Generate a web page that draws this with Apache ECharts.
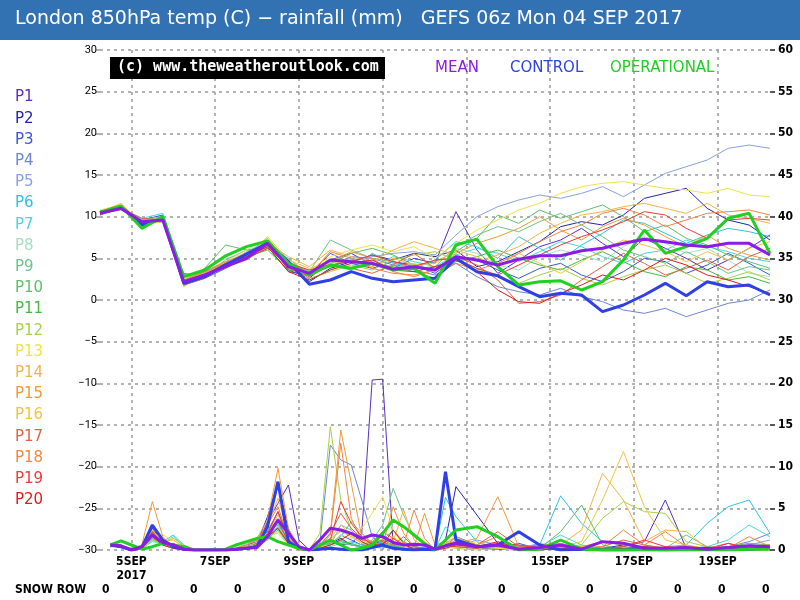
<!DOCTYPE html>
<html>
<head>
<meta charset="utf-8">
<script src="https://cdn.jsdelivr.net/npm/echarts@6/dist/echarts.min.js"></script>
<style>
html, body { margin: 0; padding: 0; background: #fff; }
#main { width: 800px; height: 600px; }
</style>
</head>
<body>
<div id="main"></div>
<script>
// lead times in hours after 04 SEP 06z
var tempHours = [0,12,24,36,48,60,72,84,96,108,120,132,144,156,168,180,192,204,216,228,240,252,264,276,288,300,312,324,336,348,360,372,384];
var rainHours = [6,12,18,24,30,36,42,48,54,60,66,72,78,84,90,96,102,108,114,120,126,132,138,144,150,156,162,168,174,180,186,192,198,204,
                 216,228,240,252,264,276,288,300,312,324,336,348,360,372,384];

// day ticks (00z) and their labels
var dayTicks = [18, 66, 114, 162, 210, 258, 306, 354];
var dayLabels = ['5SEP\n2017', '7SEP', '9SEP', '11SEP', '13SEP', '15SEP', '17SEP', '19SEP'];
var snowRow = [0,0,0,0,0,0,0,0,0,0,0,0,0,0,0,0];

// 850hPa temp (C)
var meanTemp = [10.4,11.0,9.4,9.6,2.2,3.0,4.0,5.0,6.8,4.0, 3.2,4.8,4.6,4.4,3.7,4.0,3.6,5.2,4.8,4.2, 4.9,5.3,5.3,5.9,6.2,6.8,7.3,7.0,6.6,6.4, 6.8,6.8,5.4];
var controlTemp = [10.5,11.2,9.0,9.8,2.0,2.8,4.2,5.5,6.8,4.6, 1.9,2.4,3.4,2.6,2.2,2.4,2.6,5.0,3.4,2.9, 1.6,0.4,0.8,0.6,-1.4,-0.6,0.6,2.0,0.5,2.2, 1.6,1.8,0.6];
var operationalTemp = [10.5,11.3,8.6,10.0,2.8,3.6,5.3,6.4,7.1,4.4, 3.0,4.2,3.8,4.4,3.6,3.8,2.0,6.6,7.3,4.0, 1.8,2.2,2.3,1.2,2.2,4.8,8.4,5.6,6.4,7.4, 9.8,10.4,5.6];

var p1Temp = [10.6,11.1,9.4,9.8,2.0,3.2,4.4,5.6,7.0,3.6, 2.6,4.8,5.6,4.2,3.8,5.0,4.4,10.6,6.0,3.2, 4.8,6.4,7.2,8.6,6.8,5.2,7.4,6.2,5.0,3.6, 4.8,6.2,7.8];
var p2Temp = [10.5,11.2,9.0,9.5,2.4,2.9,4.2,5.4,6.8,4.2, 2.2,3.8,4.6,5.4,4.8,5.6,5.2,6.0,4.0,4.6, 5.8,7.0,8.8,9.4,9.0,10.2,12.2,12.8,13.4,11.0, 9.6,9.0,7.2];
var p3Temp = [10.4,11.0,9.6,10.2,1.8,2.6,3.8,5.2,6.4,3.4, 3.0,5.6,4.4,3.8,4.6,4.2,3.2,5.0,4.8,3.6, 2.6,3.8,4.4,3.0,2.2,3.4,5.0,4.6,3.2,4.2, 5.6,4.4,3.0];
var p4Temp = [10.2,11.3,9.2,9.4,2.6,3.4,4.6,5.0,6.2,4.6, 3.4,4.0,5.2,5.0,4.2,3.6,3.0,4.4,2.8,1.6, 1.0,0.6,1.4,0.4,-0.2,-1.2,-1.6,-1.0,-2.0,-1.2, -0.4,0.0,1.2];
var p5Temp = [10.6,11.0,9.0,9.7,2.2,3.1,4.2,5.8,6.9,3.8, 2.8,4.6,4.8,5.2,5.6,5.8,5.4,7.8,10.0,11.2, 12.0,12.6,12.2,12.8,13.6,12.4,13.8,15.2,16.0,16.8, 18.2,18.6,18.2];
var p6Temp = [10.4,11.2,9.6,10.0,2.4,2.8,4.0,5.6,7.4,4.2, 3.2,4.2,3.6,5.6,4.4,3.8,4.8,7.0,6.4,5.0, 7.6,6.2,4.8,6.6,8.0,9.6,9.2,8.0,6.8,7.8, 8.6,8.2,7.6];
var p7Temp = [10.3,11.0,9.8,10.4,3.0,3.4,4.4,5.2,6.6,4.0, 3.6,4.4,5.0,4.0,5.2,4.6,4.0,5.4,6.2,5.6, 4.6,5.8,7.0,6.4,5.2,4.4,5.6,6.0,7.2,6.4, 5.8,5.0,4.6];
var p8Temp = [10.5,11.1,8.8,9.6,2.6,3.6,5.0,5.6,7.2,4.6, 2.4,3.6,4.4,4.8,3.8,4.4,3.4,6.2,5.6,4.2, 3.6,5.2,6.0,5.4,4.6,6.4,7.6,6.8,5.6,6.2, 4.8,3.2,2.8];
var p9Temp = [10.7,11.2,9.0,9.6,2.0,3.0,4.8,6.0,6.2,4.4, 3.4,7.2,6.0,5.0,4.6,3.8,4.0,6.4,7.8,8.8, 8.2,9.4,10.4,9.0,7.6,6.0,5.2,4.4,5.8,4.6, 3.2,4.0,3.6];
var p10Temp = [10.4,10.8,9.4,9.8,2.2,3.8,6.6,6.0,6.4,5.0, 3.0,4.4,5.6,6.2,5.4,4.2,4.6,5.8,7.4,10.2, 9.2,10.8,9.8,10.6,11.4,10.0,8.2,9.0,7.4,6.6, 5.4,4.6,3.8];
var p11Temp = [10.6,11.0,9.2,9.4,3.2,2.8,4.0,5.2,6.0,3.6, 3.2,4.0,4.8,4.4,4.0,3.4,2.6,4.6,5.2,6.0, 5.0,4.2,3.6,4.8,5.8,4.6,3.4,2.8,4.0,3.6, 2.4,2.8,2.0];
var p12Temp = [10.3,11.2,9.6,10.0,2.4,3.2,4.2,5.4,6.8,4.0, 2.6,3.4,4.2,3.6,4.8,5.4,5.8,4.8,3.8,2.8, 2.0,3.0,3.8,2.6,1.8,2.8,3.6,4.2,3.2,2.0, 2.6,3.4,2.4];
var p13Temp = [10.8,11.4,9.0,9.4,2.6,3.6,4.6,6.0,7.4,4.4, 3.6,5.2,6.0,6.6,5.8,6.4,5.0,6.8,8.4,9.6, 10.8,11.6,12.8,13.6,14.0,14.2,13.8,13.4,13.2,12.8, 13.4,12.6,12.4];
var p14Temp = [10.5,11.2,9.4,9.8,1.6,3.2,4.4,5.4,6.8,5.2, 4.0,6.0,5.2,4.6,6.0,7.0,6.2,5.4,4.6,5.4, 6.4,8.0,9.2,10.2,10.6,11.2,11.6,11.0,10.4,11.6, 10.2,9.8,9.2];
var p15Temp = [10.4,11.0,9.0,9.6,2.0,3.4,4.0,4.8,6.4,4.0, 3.2,4.6,5.8,5.0,3.4,2.8,3.6,5.6,6.8,7.6, 8.6,10.0,8.4,7.2,8.8,9.8,9.0,7.6,6.4,7.8, 6.2,5.4,4.8];
var p16Temp = [10.6,11.6,9.2,10.0,2.8,3.0,4.2,5.0,7.6,4.8, 3.8,4.4,4.6,4.0,5.0,4.2,4.4,6.0,5.2,4.0, 5.6,4.4,3.2,4.6,6.0,7.2,6.6,5.8,4.6,5.8, 4.8,6.2,7.0];
var p17Temp = [10.2,11.0,9.8,9.6,1.8,2.6,4.2,5.4,6.6,3.8, 2.8,4.2,3.8,3.2,4.2,5.6,3.8,5.2,4.2,2.4, -0.4,-0.2,0.6,2.4,4.0,5.6,4.4,3.0,3.8,4.8, 3.6,5.2,6.2];
var p18Temp = [10.4,11.1,9.4,9.4,2.4,3.4,4.6,5.6,7.0,4.2, 3.0,5.8,5.0,3.8,3.2,3.0,3.6,4.4,3.6,4.4, 5.6,7.0,8.2,9.0,10.4,11.0,10.2,8.8,9.6,10.4, 10.6,10.8,10.2];
var p19Temp = [10.6,11.3,9.0,9.8,2.2,2.8,4.0,5.0,6.2,4.4, 3.6,4.2,4.6,5.4,4.6,4.0,4.8,5.0,3.8,3.0, 4.2,5.4,6.6,7.6,8.4,9.4,10.6,10.2,8.6,7.4, 9.6,9.8,9.6];
var p20Temp = [10.3,10.9,9.2,9.6,2.0,3.0,4.4,5.2,6.4,3.4, 2.4,3.6,4.4,4.8,3.6,3.4,4.0,4.8,3.4,1.2, -0.2,-0.4,0.8,1.8,3.0,2.4,3.6,5.0,4.2,3.0, 2.4,1.6,0.8];

// rainfall (mm)
var meanRain = [0.6,0.5,0.0,0.4,1.8,0.9,0.6,0.1,0.0,0.0, 0.0,0.0,0.1,0.2,0.3,1.6,3.6,2.0,0.4,0.0, 1.2,2.6,2.4,2.0,1.4,1.8,1.6,0.9,0.6,0.7, 0.6,0.1,0.5,0.8,0.4,0.6,0.1,0.3,0.6,0.1, 1.0,0.8,0.2,0.2,0.3,0.1,0.3,0.5,0.4];
var controlRain = [0.6,0.4,0.0,0.3,3.0,1.2,0.4,0.1,0.0,0.0, 0.0,0.0,0.1,0.2,0.4,2.8,8.2,1.0,0.2,0.0, 0.1,0.2,0.1,0.0,0.0,0.3,0.6,0.2,0.1,0.0, 0.1,0.0,9.4,1.2,0.4,0.6,2.2,0.6,0.0,0.1, 0.0,0.0,0.1,0.0,0.1,0.2,0.1,0.1,0.2];
var operationalRain = [0.6,1.1,0.6,0.1,0.4,0.8,0.6,0.4,0.0,0.0, 0.0,0.1,0.6,1.0,1.4,1.6,1.0,0.6,0.2,0.0, 0.6,1.2,0.6,0.0,0.2,0.6,2.0,3.6,2.8,1.8, 0.8,0.0,1.2,2.4,2.8,1.6,0.0,0.1,1.2,0.1, 0.0,0.0,0.0,0.0,0.0,0.0,0.0,0.1,0.1];

var p1Rain = [0.5,0.4,0,0.2,2.2,0.8,0.4,0,0,0, 0,0,0,0.2,0.6,3.4,5.6,7.8,1.2,0, 0.4,1.0,0.6,0.8,2.0,20.4,20.5,0.8,0.2,0.4, 0.2,0,0.6,0.4,0.2,0.1,0,0.6,0.2,0, 0,0.4,1.0,6.0,0.2,0,0.1,0.2,0.4];
var p2Rain = [0.6,0.5,0,0.3,2.6,1.0,0.3,0,0,0, 0,0,0.1,0.4,0.8,4.0,8.0,2.4,0.2,0, 0.2,0.8,1.4,0.6,0.4,0.8,1.0,0.4,0.2,0, 0.1,0,1.2,7.6,4.2,0.8,0.2,0,0.2,0, 0.2,0.6,0.4,0.1,0,0,0.2,0.4,0.6];
var p3Rain = [0.4,0.6,0,0.2,2.0,0.6,0.8,0.2,0,0, 0,0,0.2,0.6,1.0,2.2,4.6,1.4,0.3,0, 0.4,0.6,1.8,1.2,0.6,1.0,0.4,0.2,0.1,0, 0,0,0.4,1.6,0.6,0.2,0.8,0.1,0,0, 0,0.1,0,0.2,0,0.1,0,0,0.2];
var p4Rain = [0.6,0.3,0,0.4,1.4,0.6,0.2,0,0,0, 0,0,0,0.2,0.4,1.2,2.8,0.8,0.1,0, 0.8,12.6,10.8,10.2,6.0,1.6,0.6,0.3,0.2,0.1, 0,0,0.4,0.6,0.2,0.4,0.1,0,0.2,0, 0,0,0.3,0.1,0,0.2,0.4,1.0,2.0];
var p5Rain = [0.4,0.4,0,0.2,1.6,0.8,0.4,0,0,0, 0,0,0,0.1,0.6,2.0,3.8,1.0,0.2,0, 0.2,0.6,3.0,2.4,1.0,0.4,0.2,0.6,0.3,0, 0,0,0.2,0.4,1.2,0.6,0.2,0.8,0.2,0, 0,0.2,0.1,0,0.2,0,0.1,0.6,1.2];
var p6Rain = [0.5,0.3,0,0.3,1.2,1.0,1.8,0.6,0,0, 0,0,0,0.2,0.6,2.4,3.0,1.2,0.2,0, 0.3,0.8,1.2,0.6,0.4,0.6,1.0,0.4,0.2,0.1, 0.4,0,6.3,4.0,1.0,0.2,0.4,0.6,6.5,3.2, 1.0,0.6,0.2,0,0.6,3.2,5.2,6.0,2.0];
var p7Rain = [0.4,0.5,0,0.2,1.0,0.8,1.6,0.4,0,0, 0,0,0,0.1,0.4,1.6,2.6,0.8,0.1,0, 0.2,0.4,0.8,1.0,0.6,0.2,0.4,0.2,0,0, 0.2,0,2.8,1.4,0.6,0.2,0,0.4,1.8,0.6, 0.2,0.4,0,0,0.2,0.4,1.2,3.0,1.6];
var p8Rain = [0.6,0.4,0,0.2,1.2,0.6,0.2,0,0,0, 0,0,0,0.2,0.4,1.8,2.0,0.6,0,0, 0.6,1.4,2.2,1.6,0.8,0.4,0.6,0.2,0.4,0, 0,0,0.6,0.4,0.2,0.6,0.2,0,0.4,0.2, 0,0.2,0.6,0.2,0,0.4,0.2,0,0.6];
var p9Rain = [0.4,0.6,0,0.3,1.6,0.8,0.4,0,0,0, 0,0,0.2,0.8,1.2,2.6,3.4,1.0,0.2,0, 0.4,1.0,0.8,0.6,0.4,1.2,3.0,7.4,4.2,1.6, 0.6,0,0.8,0.6,0.2,0.4,0,0.2,0.6,0.2, 0,0,0.4,0.2,1.8,0.4,0,0.2,0.4];
var p10Rain = [0.5,0.4,0,0.2,1.4,0.6,0.2,0,0,0, 0,0,0,0.4,0.6,1.4,2.4,0.6,0,0, 0.2,0.8,1.6,3.4,2.0,0.8,1.2,2.4,1.0,0.4, 0.2,0,0.6,0.8,0.4,0.2,0.6,0.2,2.2,5.4, 0.6,0,0.2,0.1,0,0.2,0.4,0.8,0.6];
var p11Rain = [0.6,0.5,0,0.3,1.8,0.8,0.4,0.1,0,0, 0,0,0.1,0.4,0.8,2.0,3.2,1.2,0.2,0, 0.4,0.6,1.0,0.8,0.4,0.6,0.8,0.6,0.2,0, 0,0,0.4,0.8,0.6,0.2,0,0.2,0.4,0.1, 0,0,0.2,0.1,0,0.2,0,0.1,0.2];
var p12Rain = [0.4,0.5,0,0.2,1.2,0.8,1.4,0.6,0,0, 0,0,0,0.2,0.6,1.8,2.8,1.0,0.2,0, 2.0,14.8,6.0,2.4,1.2,0.6,0.4,0.8,0.2,0, 0.2,0,0.4,0.2,0,0.2,0,0.2,0.4,0.6, 3.8,5.8,4.6,4.4,1.0,0.4,0.2,0,0.2];
var p13Rain = [0.6,0.4,0,0.2,1.6,1.8,1.2,0.2,0,0, 0,0,0,0.2,0.4,1.2,2.2,0.6,0,0, 0.4,0.6,1.8,1.4,2.6,4.4,6.4,2.4,0.4,0, 0,0,0.2,0.4,1.0,0.2,0,0.4,0.2,0, 0,0.2,0.6,0.2,0,0,0.2,0,0];
var p14Rain = [0.5,0.6,0,0.4,2.4,1.0,0.6,0,0,0, 0,0,0,0.2,1.0,2.8,6.2,2.0,0.4,0, 0.6,1.2,2.4,1.6,0.8,0.6,1.4,1.0,4.8,1.2, 0.4,0,0.8,1.6,0.4,0.6,0.2,0,0.6,2.4, 9.2,6.0,1.0,2.4,2.2,0.2,0,0.4,0.2];
var p15Rain = [0.8,0.6,0.2,0.6,5.8,1.6,0.4,0,0,0, 0,0,0.2,0.6,1.4,3.6,9.8,2.6,0.4,0, 0.6,2.0,14.4,8.0,1.6,1.0,0.6,5.2,2.0,0.4, 4.4,0.6,1.0,0.8,1.4,6.4,0.4,0.2,0.6,0.4, 1.0,0.6,0.2,0.4,0.6,0,0.2,0.4,0.6];
var p16Rain = [0.6,0.4,0,0.3,1.8,1.0,1.2,0.4,0,0, 0,0,0,0.4,0.6,2.0,4.2,1.6,0.2,0, 0.2,1.4,3.0,1.8,0.8,0.6,0.8,1.6,0.6,0.2, 0.2,0,0.4,0.6,0.2,0.4,0,0.2,0.4,1.0, 6.0,11.8,5.2,1.2,0.6,0.2,0,0.2,0.4];
var p17Rain = [0.6,0.5,0,0.3,2.0,0.8,0.4,0,0,0, 0,0,0,0.2,0.6,1.8,3.6,0.8,0.2,0, 0.6,2.0,4.4,2.6,1.4,0.8,1.2,0.6,1.6,0.4, 0.2,0,0.6,1.0,0.6,2.2,0.4,0.2,0.6,0.2, 0.4,1.2,0.6,0.2,0.4,0.2,0.8,0.2,0.4];
var p18Rain = [0.7,0.5,0.1,0.4,2.8,1.2,0.6,0,0,0, 0,0,0,0.6,1.2,3.0,5.2,1.4,0.2,0, 0.4,1.8,12.8,3.8,1.2,1.0,2.2,1.4,0.6,4.8, 1.4,0,0.4,1.2,0.6,1.6,0.2,0.6,0.8,0.2, 0.4,2.4,0.6,2.2,0.4,0,0.2,1.6,0.4];
var p19Rain = [0.5,0.4,0,0.2,2.2,0.8,0.4,0,0,0, 0,0,0,0.2,0.6,2.0,4.6,1.2,0.2,0, 0.4,1.2,5.8,3.2,1.6,0.6,0.8,1.4,0.6,0.2, 0.2,0,0.6,0.4,0.2,0.8,0.6,0.2,0.4,0.2, 0.2,0.4,1.2,0.4,0.2,0,0.8,0.2,0.4];
var p20Rain = [0.6,0.3,0,0.2,1.6,0.6,0.2,0,0,0, 0,0,0,0.2,0.4,1.6,2.6,0.8,0,0, 0.2,0.6,1.2,2.0,1.0,0.4,0.6,2.4,0.8,0, 0,0,0.2,0.6,0.4,1.0,0.2,0,0.2,0, 0,0.2,0.4,0.2,0,0,0.2,0,0.2];

var memberNames = ['P1','P2','P3','P4','P5','P6','P7','P8','P9','P10','P11','P12','P13','P14','P15','P16','P17','P18','P19','P20'];
var memberColors = ['#5a2dbf','#2424aa','#3b55cf','#6b86d6','#87a3e3','#2cc3e6','#45d6e0','#a3dfc3','#6cc48a','#5fbf6a',
                    '#43bb43','#a5d246','#f0e24a','#f2b447','#f09a35','#f2c244','#dc6444','#ef8546','#ef3a36','#de1c1c'];
var memberTemp = [p1Temp,p2Temp,p3Temp,p4Temp,p5Temp,p6Temp,p7Temp,p8Temp,p9Temp,p10Temp,p11Temp,p12Temp,p13Temp,p14Temp,p15Temp,p16Temp,p17Temp,p18Temp,p19Temp,p20Temp];
var memberRain = [p1Rain,p2Rain,p3Rain,p4Rain,p5Rain,p6Rain,p7Rain,p8Rain,p9Rain,p10Rain,p11Rain,p12Rain,p13Rain,p14Rain,p15Rain,p16Rain,p17Rain,p18Rain,p19Rain,p20Rain];

var MEAN_COL = '#8a1ce6', CONTROL_COL = '#2e40e6', OP_COL = '#20d020';
var narrow = "'Liberation Sans Narrow', 'DejaVu Sans Condensed', 'Roboto', sans-serif";

function pairs(hours, vals) {
    return vals.map(function (v, i) { return [hours[i], v]; });
}

var myChart = echarts.init(document.getElementById('main'));

var series = [];
// ensemble rainfall first so it sits underneath
memberRain.forEach(function (vals, m) {
    series.push({
        name: memberNames[m] + ' rain', type: 'line', yAxisIndex: 1,
        data: pairs(rainHours, vals), symbol: 'none', silent: true, z: 2,
        lineStyle: { width: 1, color: memberColors[m] }
    });
});
memberTemp.forEach(function (vals, m) {
    series.push({
        name: memberNames[m], type: 'line', yAxisIndex: 0,
        data: pairs(tempHours, vals), symbol: 'none', silent: true, z: 3,
        lineStyle: { width: 1, color: memberColors[m] }
    });
});
// thick lines: control, operational, mean
[
    ['CONTROL', controlTemp, controlRain, CONTROL_COL],
    ['OPERATIONAL', operationalTemp, operationalRain, OP_COL],
    ['MEAN', meanTemp, meanRain, MEAN_COL]
].forEach(function (s, k) {
    series.push({
        name: s[0] + ' rain', type: 'line', yAxisIndex: 1, data: pairs(rainHours, s[2]),
        symbol: 'none', silent: true, z: 4 + k, lineStyle: { width: 3, color: s[3] }
    });
    series.push({
        name: s[0], type: 'line', yAxisIndex: 0, data: pairs(tempHours, s[1]),
        symbol: 'none', silent: true, z: 4 + k, lineStyle: { width: 3, color: s[3] }
    });
});

var graphics = [
    { type: 'rect', left: 0, top: 0, shape: { width: 800, height: 40 }, style: { fill: '#3372b2' } },
    { type: 'text', left: 15, top: 10, style: { text: 'London 850hPa temp (C) \u2212 rainfall (mm)   GEFS 06z Mon 04 SEP 2017',
        fill: '#fff', font: '19px "DejaVu Sans", sans-serif' } },
    { type: 'rect', left: 110, top: 57, shape: { width: 275, height: 22 }, style: { fill: '#000' }, z: 10 },
    { type: 'text', left: 117, top: 60, z: 11, style: { text: '(c) www.theweatheroutlook.com', fill: '#fff',
        font: 'bold 15px "DejaVu Sans Mono", monospace' } },
    { type: 'text', left: 435, top: 61, z: 11, style: { text: 'MEAN', fill: MEAN_COL, font: '15px "DejaVu Sans", sans-serif' } },
    { type: 'text', left: 510, top: 61, z: 11, style: { text: 'CONTROL', fill: CONTROL_COL, font: '15px "DejaVu Sans", sans-serif' } },
    { type: 'text', left: 610, top: 61, z: 11, style: { text: 'OPERATIONAL', fill: OP_COL, font: '15px "DejaVu Sans", sans-serif' } },
    { type: 'text', left: 15, top: 584, style: { text: 'SNOW ROW', fill: '#000', font: 'bold 12px ' + narrow } }
];
memberNames.forEach(function (n, m) {
    graphics.push({ type: 'text', left: 15, top: 90 + m * 21.2,
        style: { text: n, fill: memberColors[m], font: '15px "DejaVu Sans", sans-serif' } });
});
snowRow.forEach(function (v, i) {
    graphics.push({ type: 'text', left: 102 + i * 44, top: 584,
        style: { text: String(v), fill: '#000', font: 'bold 12px ' + narrow } });
});

var dotted = { color: '#9a9a9a', type: [3, 4], width: 1.5 };

option = {
    animation: false,
    backgroundColor: '#fff',
    grid: { left: 100, right: 30, top: 50, bottom: 50 },
    graphic: graphics,
    xAxis: {
        type: 'value', min: 0, max: 384,
        axisLine: { show: false },
        axisTick: { show: false, customValues: dayTicks },
        axisLabel: {
            customValues: dayTicks, margin: 5, color: '#000', lineHeight: 14,
            fontFamily: narrow, fontWeight: 'bold', fontSize: 12,
            formatter: function (v) { return dayLabels[dayTicks.indexOf(v)]; }
        },
        splitLine: { show: true, lineStyle: dotted }
    },
    yAxis: [{
        type: 'value', min: -30, max: 30, interval: 5,
        axisLine: { show: false },
        axisTick: { show: true, length: 4, lineStyle: { color: '#9a9a9a', width: 1.5 } },
        axisLabel: { color: '#000', fontSize: 11, margin: 3, fontFamily: 'Roboto, sans-serif',
            formatter: function (v) { return String(v).replace('-', '\u2212'); } },
        splitLine: { show: true, lineStyle: dotted }
    }, {
        type: 'value', min: 0, max: 60, interval: 5, position: 'right',
        axisLine: { show: false },
        axisTick: { show: true, length: 5, lineStyle: { color: '#222', width: 1.5 } },
        axisLabel: { color: '#000', fontSize: 12, fontWeight: 'bold', margin: 8, fontFamily: narrow },
        splitLine: { show: false }
    }],
    series: series
};
myChart.setOption(option);
</script>
</body>
</html>
